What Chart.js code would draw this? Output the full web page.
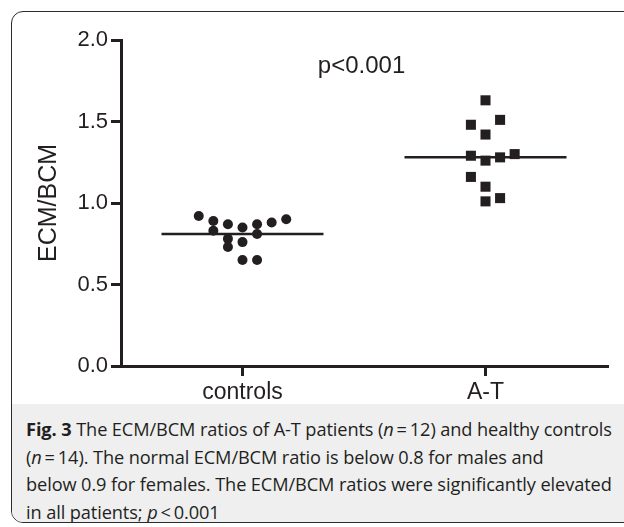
<!DOCTYPE html>
<html>
<head>
<meta charset="utf-8">
<script src="https://cdn.jsdelivr.net/npm/chart.js@4.4.1/dist/chart.umd.min.js"></script>
<style>
  html, body { margin: 0; padding: 0; width: 624px; height: 527px; overflow: hidden; background: #fff; }
  #frame {
    position: absolute; left: 11px; top: 11px; width: 660px; height: 510px;
    border: 1.5px solid #2b2b2b; border-radius: 12px; overflow: hidden; background: #fff;
  }
  #caption {
    position: absolute; left: 0; top: 392px; width: 100%; height: 130px; background: #efeff0;
  }
  #captionText {
    position: absolute; left: 14px; top: 12px; white-space: nowrap;
    font-family: "Open Sans", sans-serif; font-size: 18.2px; line-height: 27.7px; color: #231f20;
    letter-spacing: -0.1px;
  }
</style>
</head>
<body>
<div id="frame">
  <div id="caption">
    <div id="captionText"><b>Fig. 3</b> The ECM/BCM ratios of A-T patients (<i>n</i>&#8201;=&#8201;12) and healthy controls<br>(<i>n</i>&#8201;=&#8201;14). The normal ECM/BCM ratio is below 0.8 for males and<br>below 0.9 for females. The ECM/BCM ratios were significantly elevated<br>in all patients; <i>p</i>&#8201;&lt;&#8201;0.001</div>
  </div>
</div>
<div style="position:absolute;left:0;top:0;width:624px;height:405px;"><canvas id="chart" width="624" height="405"></canvas></div>
<script>
// groups on the x axis
const categories = ['controls', 'A-T'];

// ECM/BCM ratio of each subject
const controlsValues = [0.92, 0.89, 0.83, 0.87, 0.78, 0.73, 0.85, 0.76, 0.65, 0.87, 0.81, 0.65, 0.88, 0.90];
const controlsColumns = [-3, -2, -2, -1, -1, -1, 0, 0, 0, 1, 1, 1, 2, 3];
const atValues = [1.63, 1.48, 1.51, 1.42, 1.29, 1.26, 1.28, 1.30, 1.16, 1.10, 1.01, 1.03];
const atColumns = [0, -1, 1, 0, -1, 0, 1, 2, -1, 0, 0, 1];

// group medians (horizontal bars)
const medians = [0.81, 1.28];

const yTicks = [0, 0.5, 1.0, 1.5, 2.0];
const pText = 'p<0.001';

const INK = '#231f20';
const COL_STEP = 0.06;   // horizontal spread between stacked points
const HALF_BAR = 1 / 3;  // half width of the median bar

function toPoints(values, cols, groupIndex) {
    return values.map((v, i) => ({ x: groupIndex + 1 + cols[i] * COL_STEP, y: v }));
}

function medianLine(groupIndex) {
    const c = groupIndex + 1;
    return [{ x: c - HALF_BAR, y: medians[groupIndex] }, { x: c + HALF_BAR, y: medians[groupIndex] }];
}

// p value text placed through the scales
const pLabelPlugin = {
    id: 'pLabel',
    afterDatasetsDraw(chart) {
        const ctx = chart.ctx;
        const x = chart.scales.x.getPixelForValue(1.49);
        const y = chart.scales.y.getPixelForValue(1.80);
        ctx.save();
        ctx.font = '24px "Liberation Sans", Arial, sans-serif';
        ctx.fillStyle = INK;
        ctx.textAlign = 'center';
        ctx.textBaseline = 'alphabetic';
        ctx.fillText(pText, x, y);
        ctx.restore();
    }
};

const ctx = document.getElementById('chart').getContext('2d');
new Chart(ctx, {
    type: 'scatter',
    data: {
        datasets: [
            {
                label: 'controls',
                data: toPoints(controlsValues, controlsColumns, 0),
                pointStyle: 'circle',
                pointRadius: 5,
                backgroundColor: INK,
                borderWidth: 0,
                order: 0
            },
            {
                label: 'A-T',
                data: toPoints(atValues, atColumns, 1),
                pointStyle: 'rect',
                pointRadius: 7.1,
                backgroundColor: INK,
                borderWidth: 0,
                order: 0
            },
            {
                type: 'line',
                label: 'controls median',
                data: medianLine(0),
                borderColor: INK,
                borderWidth: 2.5,
                pointRadius: 0,
                order: 1
            },
            {
                type: 'line',
                label: 'A-T median',
                data: medianLine(1),
                borderColor: INK,
                borderWidth: 2.5,
                pointRadius: 0,
                order: 1
            }
        ]
    },
    options: {
        responsive: false,
        animation: false,
        layout: { padding: { top: 40, right: 17, left: 0, bottom: 0 } },
        plugins: { legend: { display: false }, tooltip: { enabled: false } },
        scales: {
            x: {
                type: 'linear',
                min: 0.5,
                max: 2.5,
                afterBuildTicks: (scale) => { scale.ticks = categories.map((c, i) => ({ value: i + 1 })); },
                afterFit: (scale) => { scale.height = 39; },
                ticks: {
                    callback: (v) => categories[v - 1],
                    color: INK,
                    font: { size: 23, family: '"Liberation Sans", Arial, sans-serif' },
                    padding: 3,
                    maxRotation: 0
                },
                grid: { drawOnChartArea: false, drawTicks: true, tickLength: 10, color: INK, lineWidth: 3 },
                border: { display: true, color: INK, width: 3 }
            },
            y: {
                min: 0,
                max: 2,
                afterBuildTicks: (scale) => { scale.ticks = yTicks.map(v => ({ value: v })); },
                afterFit: (scale) => { scale.width = 121; },
                ticks: {
                    callback: (v) => v.toFixed(1),
                    color: INK,
                    font: { size: 22, family: '"Liberation Sans", Arial, sans-serif' },
                    padding: 3
                },
                title: {
                    display: true,
                    text: 'ECM/BCM',
                    color: INK,
                    font: { size: 25, family: '"Liberation Sans", Arial, sans-serif' },
                    padding: { top: 34, bottom: 0 }
                },
                grid: { drawOnChartArea: false, drawTicks: true, tickLength: 10, color: INK, lineWidth: 3 },
                border: { display: true, color: INK, width: 3 }
            }
        }
    },
    plugins: [pLabelPlugin]
});
</script>
</body>
</html>
